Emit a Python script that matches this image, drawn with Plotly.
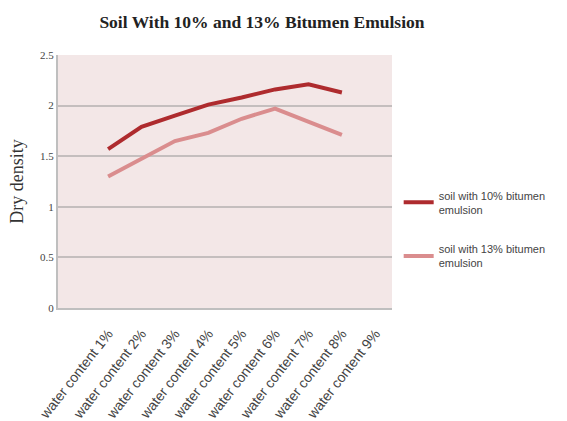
import plotly.graph_objects as go

categories = [f"water content {i}%" for i in range(1, 10)]
soil_10 = [1.57, 1.79, 1.90, 2.01, 2.08, 2.16, 2.21, 2.13]
soil_13 = [1.30, 1.48, 1.65, 1.73, 1.87, 1.97, 1.84, 1.71]
series_names = ["soil with 10% bitumen<br>emulsion", "soil with 13% bitumen<br>emulsion"]
y_ticks = [0, 0.5, 1, 1.5, 2, 2.5]
y_ticktext = ["0", "0.5", "1", "1.5", "2", "2.5"]

fig = go.Figure()
fig.add_trace(go.Scatter(
    x=categories[:len(soil_10)], y=soil_10, mode="lines", name=series_names[0],
    legendgroup="s10", line=dict(color="#AE2B2E", width=4),
))
fig.add_trace(go.Scatter(
    x=categories[:len(soil_13)], y=soil_13, mode="lines", name=series_names[1],
    legendgroup="s13", line=dict(color="#DA8D8E", width=4),
))

fig.update_layout(
    width=567, height=421,
    margin=dict(l=58, r=175, t=55, b=113),
    paper_bgcolor="white",
    plot_bgcolor="#F3E7E7",
    title=dict(
        text="<b>Soil With 10% and 13% Bitumen Emulsion</b>",
        x=0.462, xanchor="center", y=0.948, yanchor="middle",
        font=dict(family="Liberation Serif", size=17.5, color="#222222"),
    ),
    showlegend=True,
    legend=dict(
        x=1.02, xanchor="left", y=0.31, yanchor="middle",
        font=dict(family="Liberation Sans", size=11, color="#444444"),
        bgcolor="rgba(0,0,0,0)", tracegroupgap=22,
    ),
)

fig.update_xaxes(
    type="category", categoryorder="array", categoryarray=categories,
    tickvals=categories, ticktext=categories,
    range=[-1.5, 8.5], tickangle=-52,
    showgrid=False, zeroline=False,
    showline=True, linecolor="#BFBFBF", linewidth=2,
    tickfont=dict(family="Liberation Sans", size=14, color="#444444"),
    ticks="", ticklabelstandoff=10, automargin=False,
)
fig.update_yaxes(
    range=[0, 2.5], tickvals=y_ticks, ticktext=y_ticktext,
    showgrid=True, gridcolor="#C4BEBE", gridwidth=2,
    zeroline=False, showline=True, linecolor="#BFBFBF", linewidth=2,
    tickfont=dict(family="Liberation Serif", size=11, color="#444444"),
    title=dict(text="Dry density", font=dict(family="Liberation Serif", size=18, color="#333333"), standoff=12),
    ticks="", automargin=False,
)

fig.write_html("out.html")
